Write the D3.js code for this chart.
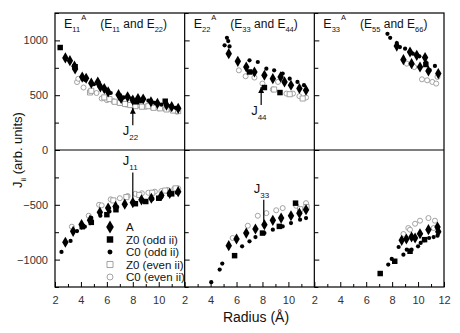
<!DOCTYPE html>
<html lang="en">
<head>
  <meta charset="UTF-8">
  <title>Exchange constants vs radius</title>
  <script src="https://d3js.org/d3.v7.min.js"></script>
  <style>
    body { margin: 0; background: #fff; }
    svg { display: block; font-family: "Liberation Sans", Arial, sans-serif; }
  </style>
</head>
<body>
  <svg id="chart" width="460" height="333"></svg>

  <script>
    // series values, [radius, J] pairs; positive half is the upper curve, negative half the lower
    // panel 1: E11^A
    const A_1 = [[2.8,840],[3.15,815],[3.5,765],[3.55,740],[4.1,665],[4.4,655],[4.8,610],[5.3,620],[5.5,575],[5.8,560],[6.1,530],[6.9,505],[7.1,470],[7.6,485],[8.0,455],[8.4,470],[8.8,465],[9.4,440],[9.9,425],[10.6,410],[11.0,395],[11.5,380],
                 [2.8,-842],[3.4,-742],[4.05,-680],[4.7,-640],[5.46,-568],[6.1,-530],[6.67,-515],[7.38,-494],[8.0,-480],[8.67,-455],[9.43,-440],[10.2,-415],[10.85,-395],[11.5,-380]];
    const Z0odd_1 = [[2.4,935],[3.55,760],[8.3,440],[10.5,445],
                     [4.1,-700],[4.8,-660],[6.0,-590],[6.7,-545],[8.2,-490],[9.0,-470],[10.0,-440],[11.0,-400]];
    const C0odd_1 = [[4.3,640],[5.0,600],[6.3,520],[7.3,480],[7.9,470],[8.6,445],[9.2,450],[9.7,430],[10.2,415],[10.9,400],[11.3,385],
                     [2.5,-930],[3.2,-830],[3.7,-740],[4.3,-700],[4.8,-620],[5.5,-600],[6.2,-560],[6.8,-520],[7.4,-500],[8.1,-480],[8.8,-470],[9.5,-450],[10.2,-430],[10.8,-410],[11.4,-390]];
    const Z0even_1 = [[4.7,525],[4.8,540],[5.8,480],[6.2,465],[6.6,440],[7.0,430],[7.4,420],[7.8,410],[8.2,400],[8.7,395],[9.2,400],[9.6,385],[10.1,380],[10.6,370],[11.1,360],[11.5,355],
                      [6.5,-460],[7.5,-430],[8.5,-410],[9.5,-390],[10.5,-370],[11.3,-350]];
    const C0even_1 = [[3.7,620],[3.8,650],[4.2,570],[5.2,520],[5.6,470],[6.0,455],[6.5,445],[7.0,430],[7.5,415],[8.0,405],[8.5,410],[9.0,395],[9.5,390],[10.0,380],[10.5,375],[11.0,365],[11.4,350],
                      [3.3,-700],[4.6,-600],[5.4,-500],[5.6,-505],[6.3,-450],[7.0,-440],[7.6,-420],[8.2,-400],[8.7,-395],[9.2,-390],[9.7,-380],[10.2,-375],[10.7,-365],[11.2,-355],[11.5,-350]];

    // panel 2: E22^A
    const A_2 = [[5.4,879],[6.1,809],[6.75,757],[7.38,712],[8.15,682],[8.8,651],[9.4,667],[9.7,621],[10.2,591],[10.85,561],[11.36,545],
                 [5.4,-873],[6.0,-812],[6.75,-758],[7.46,-721],[8.15,-682],[8.8,-642],[9.44,-621],[10.2,-600],[10.85,-576],[11.36,-545]];
    const Z0odd_2 = [[7.0,712],[8.15,570],[9.35,524],
                     [5.85,-964],[8.0,-758],[9.3,-697],[10.55,-485]];
    const C0odd_2 = [[5.26,1024],[5.36,994],[5.08,955],[5.46,945],[7.0,818],[7.64,803],[8.3,742],[8.9,727],[9.56,697],[10.1,651],[10.7,621],[11.2,591],
                     [4.05,-1206],[4.7,-1091],[4.9,-1036],[6.43,-879],[7.0,-833],[7.46,-794],[8.15,-758],[8.8,-727],[9.56,-697],[10.2,-667],[10.9,-636],[11.36,-621]];
    const Z0even_2 = [[8.9,552],[10.1,509],[11.1,470],
                      [10.9,-540],[11.4,-520]];
    const C0even_2 = [[6.18,727],[6.7,673],[7.38,661],[8.0,606],[8.8,552],[9.2,621],[9.85,515],[10.35,515],[10.85,491],[11.36,479],
                      [5.7,-803],[6.87,-691],[7.64,-600],[8.3,-576],[9.06,-550],[9.56,-530],[10.6,-509],[11.36,-485]];

    // panel 3: E33^A
    const A_3 = [[8.36,948],[9.38,894],[9.9,864],[10.54,843],[8.87,824],[9.5,788],[10.15,757],[10.8,721],[11.56,697],
                 [8.74,-824],[9.1,-812],[9.5,-794],[9.77,-803],[10.15,-764],[10.8,-727],[11.5,-703],[11.56,-745]];
    const Z0odd_3 = [[10.6,780],
                     [7.08,-1127],[8.2,-1015],[9.38,-924],[10.5,-818]];
    const C0odd_3 = [[7.64,1060],[7.85,1024],[8.36,976],[8.6,939],[9.0,924],[9.6,879],[10.1,855],[10.6,800],[11.3,767],[10.9,730],
                     [7.7,-1045],[7.97,-994],[8.5,-885],[8.87,-955],[9.13,-909],[9.5,-909],[10.0,-879],[10.2,-848],[10.46,-824],[10.85,-803],[11.2,-794],[11.5,-782]];
    const Z0even_3 = [];
    const C0even_3 = [[9.13,788],[9.7,757],[10.3,645],[10.7,636],[11.1,621],[11.4,606],[11.5,667],
                      [8.87,-767],[9.25,-712],[9.38,-727],[9.77,-673],[10.15,-645],[10.8,-621],[11.3,-645],[11.2,-712]];

    const panelTitles = [["11", "11", "22"], ["22", "33", "44"], ["33", "55", "66"]];
    const xMajor = [2, 4, 6, 8, 10];
    const xMinor = [3, 5, 7, 9, 11];
    const yMajor = [-1000, -500, 0, 500, 1000];
    const yMinor = [-1250, -750, -250, 250, 750, 1250];
    const legendNames = ["A", "Z0 (odd ii)", "C0 (odd ii)", "Z0 (even ii)", "C0 (even ii)"];

    // arrows: panel, radius, J at tip, J at tail, subscript
    const arrows = [
      { panel: 0, x: 8, tip: 385, tail: 225, sub: "22", below: true },
      { panel: 1, x: 7.9, tip: 575, tail: 410, sub: "44", below: true },
      { panel: 0, x: 8, tip: -460, tail: -205, sub: "11", below: false },
      { panel: 1, x: 8.1, tip: -700, tail: -455, sub: "33", below: false }
    ];

    const series = [
      [A_1, A_2, A_3],
      [Z0odd_1, Z0odd_2, Z0odd_3],
      [C0odd_1, C0odd_2, C0odd_3],
      [Z0even_1, Z0even_2, Z0even_3],
      [C0even_1, C0even_2, C0even_3]
    ];

    // marker styles in legend order
    const markers = [
      { type: d3.symbolDiamond, size: 36, fill: "#000", stroke: "none" },
      { type: d3.symbolSquare, size: 30, fill: "#000", stroke: "none" },
      { type: d3.symbolCircle, size: 14, fill: "#000", stroke: "none" },
      { type: d3.symbolSquare, size: 26, fill: "#fff", stroke: "#999" },
      { type: d3.symbolCircle, size: 20, fill: "#fff", stroke: "#999" }
    ];

    const mLeft = 55, mRight = 444, mTop = 13, mBottom = 287;
    const svg = d3.select("#chart");

    const y = d3.scaleLinear().domain([-1250, 1250]).range([mBottom, mTop]);
    const edge = d3.scaleLinear().domain([0, 3]).range([mLeft, mRight]);
    const xs = [0, 1, 2].map(i => d3.scaleLinear().domain([2, 12]).range([edge(i), edge(i + 1)]));

    const tickColor = "#333";

    // bottom axes, ticks pointing into the plot
    xs.forEach((x, i) => {
      const major = i === 2 ? xMajor.concat([12]) : xMajor;
      const g = svg.append("g").attr("transform", `translate(0,${mBottom})`)
        .call(d3.axisBottom(x).tickValues(major).tickSize(-5).tickPadding(9));
      g.select(".domain").remove();
      g.selectAll("text").attr("font-size", 11).attr("fill", tickColor).attr("font-family", "Liberation Sans, Arial, sans-serif");
      g.selectAll("line").attr("stroke", "#000");
      const m = svg.append("g").attr("transform", `translate(0,${mBottom})`)
        .call(d3.axisBottom(x).tickValues(xMinor).tickSize(-3).tickFormat(""));
      m.select(".domain").remove();
      m.selectAll("line").attr("stroke", "#000");
    });

    // left axes on every panel edge; only the first carries labels
    xs.forEach((x, i) => {
      const x0 = edge(i);
      const g = svg.append("g").attr("transform", `translate(${x0},0)`)
        .call(d3.axisLeft(y).tickValues(yMajor).tickSize(-5).tickPadding(i === 0 ? 7 : 0)
          .tickFormat(i === 0 ? d3.format("d") : ""));
      g.select(".domain").remove();
      g.selectAll("line").attr("stroke", "#000");
      g.selectAll("text").attr("font-size", 11).attr("fill", tickColor).attr("font-family", "Liberation Sans, Arial, sans-serif");
      const m = svg.append("g").attr("transform", `translate(${x0},0)`)
        .call(d3.axisLeft(y).tickValues(yMinor).tickSize(-4).tickFormat(""));
      m.select(".domain").remove();
      m.selectAll("line").attr("stroke", "#000");
    });

    // frame, zero line and panel dividers
    svg.append("rect").attr("x", mLeft).attr("y", mTop)
      .attr("width", mRight - mLeft).attr("height", mBottom - mTop)
      .attr("fill", "none").attr("stroke", "#000").attr("stroke-width", 1.2);
    svg.append("line").attr("x1", mLeft).attr("x2", mRight).attr("y1", y(0)).attr("y2", y(0))
      .attr("stroke", "#000").attr("stroke-width", 1.2);
    [1, 2].forEach(i => {
      svg.append("line").attr("x1", edge(i)).attr("x2", edge(i)).attr("y1", mTop).attr("y2", mBottom)
        .attr("stroke", "#000").attr("stroke-width", 1.2);
    });

    // data points: open markers first so filled ones sit on top
    [4, 3, 2, 1, 0].forEach(s => {
      const mk = markers[s];
      const sym = d3.symbol().type(mk.type).size(mk.size);
      series[s].forEach((pts, p) => {
        svg.append("g").selectAll("path")
          .data(pts)
          .join("path")
          .attr("transform", d => `translate(${xs[p](d[0])},${y(d[1])})`)
          .attr("d", sym)
          .attr("fill", mk.fill)
          .attr("stroke", mk.stroke)
          .attr("stroke-width", 0.9);
      });
    });

    // panel titles: E_nn^A (E_aa and E_bb)
    panelTitles.forEach((t, i) => {
      const tx = svg.append("text").attr("x", edge(i) + 9).attr("y", 28)
        .attr("font-size", 12.5).attr("fill", "#111");
      tx.append("tspan").text("E");
      tx.append("tspan").attr("font-size", 7.5).attr("dy", 4).text(t[0]);
      tx.append("tspan").attr("font-size", 7.5).attr("dy", -12).attr("dx", 1).text("A");
      tx.append("tspan").attr("font-size", 12).attr("dy", 8).attr("dx", 14).text("(E");
      tx.append("tspan").attr("font-size", 7.5).attr("dy", 4).text(t[1]);
      tx.append("tspan").attr("font-size", 12).attr("dy", -4).text(" and E");
      tx.append("tspan").attr("font-size", 7.5).attr("dy", 4).text(t[2]);
      tx.append("tspan").attr("font-size", 12).attr("dy", -4).text(")");
    });

    // labelled arrows
    svg.append("defs").append("marker")
      .attr("id", "head").attr("viewBox", "0 0 6 8").attr("refX", 3).attr("refY", 0)
      .attr("markerWidth", 5).attr("markerHeight", 7).attr("orient", "0")
      .append("path").attr("d", "M0,6 L3,0 L6,6 Z").attr("fill", "#000");

    arrows.forEach(a => {
      const ax = xs[a.panel](a.x);
      const line = svg.append("line").attr("x1", ax).attr("x2", ax)
        .attr("y1", y(a.tip)).attr("y2", y(a.tail))
        .attr("stroke", "#000").attr("stroke-width", 1.2);
      if (a.below) line.attr("marker-start", "url(#head)");
      const ly = a.below ? y(a.tail) + 10 : y(a.tail) - 7;
      const lab = svg.append("text").attr("x", ax - 10).attr("y", ly)
        .attr("font-size", 13).attr("fill", "#111");
      lab.append("tspan").text("J");
      lab.append("tspan").attr("font-size", 8).attr("dy", 5).text(a.sub);
    });

    // legend inside the first panel
    legendNames.forEach((name, k) => {
      const ly = 227 + k * 12.5;
      const mk = markers[k];
      svg.append("path")
        .attr("transform", `translate(110,${ly})`)
        .attr("d", d3.symbol().type(mk.type).size(mk.size * 1.4))
        .attr("fill", mk.fill).attr("stroke", mk.stroke).attr("stroke-width", 0.9);
      svg.append("text").attr("x", 126).attr("y", ly + 4)
        .attr("font-size", 11.5).attr("fill", "#111").text(name);
    });

    // axis titles
    svg.append("text").attr("x", 256).attr("y", 322).attr("text-anchor", "middle")
      .attr("font-size", 14).attr("fill", "#111").text("Radius (Å)");

    const yl = svg.append("text").attr("transform", "translate(22,150) rotate(-90)")
      .attr("text-anchor", "middle").attr("font-size", 13).attr("fill", "#111");
    yl.append("tspan").text("J");
    yl.append("tspan").attr("font-size", 8).attr("dy", 4).text("ii");
    yl.append("tspan").attr("dy", -4).text(" (arb. units)");
  </script>
</body>
</html>
